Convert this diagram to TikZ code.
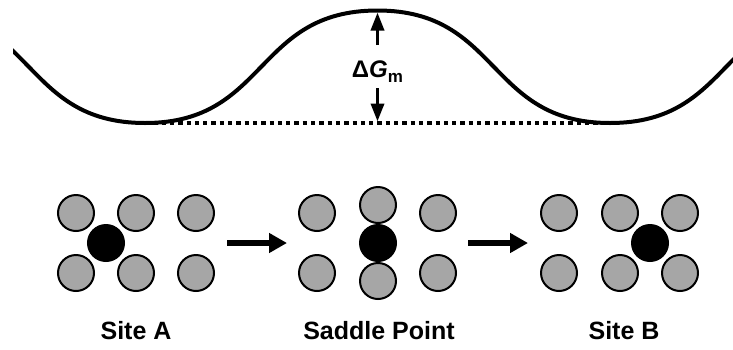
\documentclass[tikz,border=0pt]{standalone}
\usepackage{fontspec}
\setmainfont{Liberation Sans}
\usetikzlibrary{arrows.meta}
\definecolor{atomgray}{RGB}{166,166,166}
\begin{document}
\begin{tikzpicture}[x=1pt,y=-1pt,
  host/.style={circle,draw=black,line width=2pt,fill=atomgray,minimum size=36pt,inner sep=0pt},
  solute/.style={host,fill=black},
  energy/.style={line width=4pt},
  baseline/.style={line width=4pt,dash pattern=on 4.3pt off 4pt},
  jump/.style={line width=6.5pt,-{Triangle[length=18pt,width=19pt]}},
  barrier/.style={line width=3.5pt,-{Triangle[length=18pt,width=13pt]}},
  caption/.style={font=\fontsize{25}{29}\selectfont\bfseries,anchor=base,inner sep=0pt}
]
\useasboundingbox (0,0) rectangle (733,349);

% energy landscape
\coordinate (minL) at (145,123);
\coordinate (peak) at (377.5,10.5);
\coordinate (minR) at (610,123);
\draw[baseline] (minL) -- (minR);
\begin{scope}
  \clip (13,-10) rectangle (740,140);
  \draw[energy] (-87.5,10.5) .. controls (35.5,10.5) and (22,123) .. (minL)
    .. controls (268,123) and (254.5,10.5) .. (peak)
    .. controls (500.5,10.5) and (487,123) .. (minR)
    .. controls (733,123) and (719.5,10.5) .. (842.5,10.5);
\end{scope}

% barrier height
\node[anchor=base,inner sep=0pt,font=\fontsize{24}{28}\selectfont\bfseries] (dG) at (377.5,77)
  {Δ\textit{G}\raisebox{-5pt}{\fontsize{17}{19}\selectfont m}};
\coordinate (dGtop) at (377.5,45);
\coordinate (dGbot) at (377.5,88);
\coordinate (peakIn) at (377.5,12.5);
\coordinate (baseIn) at (377.5,121.5);
\draw[barrier] (dGtop) -- (peakIn);
\draw[barrier] (dGbot) -- (baseIn);

% site A
\node[host] (A1) at (76,213) {};
\node[host] (A2) at (136,213) {};
\node[host] (A3) at (196,213) {};
\node[host] (A4) at (76,273) {};
\node[host] (A5) at (136,273) {};
\node[host] (A6) at (196,273) {};
\node[solute] (Ax) at (106,243) {};

% saddle point
\node[host] (S1) at (317,213) {};
\node[host] (S3) at (438,213) {};
\node[host] (S4) at (317,273) {};
\node[host] (S6) at (438,273) {};
\node[host] (S2) at (378,205) {};
\node[host] (S5) at (378,281) {};
\node[solute] (Sx) at (378,243) {};

% site B
\node[host] (B1) at (559,213) {};
\node[host] (B2) at (620,213) {};
\node[host] (B3) at (680,213) {};
\node[host] (B4) at (559,273) {};
\node[host] (B5) at (620,273) {};
\node[host] (B6) at (680,273) {};
\node[solute] (Bx) at (650,243) {};

% jumps
\coordinate (j1s) at (227,243);
\coordinate (j1e) at (287,243);
\coordinate (j2s) at (468,243);
\coordinate (j2e) at (528,243);
\draw[jump] (j1s) -- (j1e);
\draw[jump] (j2s) -- (j2e);

% captions
\node[caption] (capA) at (136,339) {Site A};
\node[caption] (capS) at (379,339) {Saddle Point};
\node[caption] (capB) at (624,339) {Site B};
\end{tikzpicture}
\end{document}
